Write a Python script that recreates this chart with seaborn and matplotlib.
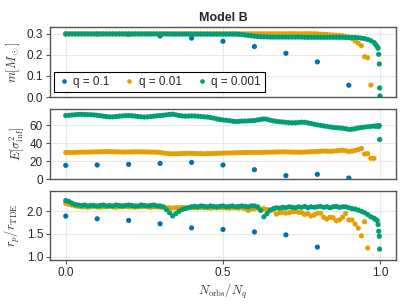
import numpy as np
import pandas as pd
import matplotlib
matplotlib.use("Agg")
import matplotlib.pyplot as plt
import seaborn as sns

nan = np.nan

# q = 0.1 (10 orbits)
x_q1 = [0.0, 0.1, 0.2, 0.3, 0.4, 0.5, 0.6, 0.7, 0.8, 0.9]
m_q1 = [0.300, 0.299, 0.297, 0.290, 0.280, 0.265, 0.240, 0.208, 0.167, 0.056]
E_q1 = [15.2, 15.6, 16.3, 17.4, 18.5, 15.6, 10.4, 3.7, 5.2, 1.1]
rp_q1 = [1.895, 1.836, 1.800, 1.725, 1.635, 1.600, 1.546, 1.480, 1.210, nan]

# q = 0.01 (N_orbs/N_q = i/100)
x_q2 = [i / 100 for i in range(99)]
m_q2 = [0.300, 0.300, 0.300, 0.300, 0.300, 0.300, 0.300, 0.300, 0.300, 0.300,
        0.300, 0.300, 0.300, 0.300, 0.300, 0.300, 0.300, 0.300, 0.300, 0.300,
        0.300, 0.300, 0.300, 0.300, 0.300, 0.300, 0.300, 0.300, 0.300, 0.300,
        0.300, 0.300, 0.300, 0.300, 0.301, 0.301, 0.301, 0.301, 0.301, 0.301,
        0.301, 0.301, 0.301, 0.301, 0.301, 0.301, 0.301, 0.301, 0.301, 0.301,
        0.301, 0.301, 0.301, 0.301, 0.301, 0.301, 0.301, 0.301, 0.301, 0.301,
        0.301, 0.301, 0.301, 0.301, 0.301, 0.301, 0.301, 0.301, 0.301, 0.301,
        0.301, 0.301, 0.301, 0.301, 0.301, 0.301, 0.301, 0.301, 0.301, 0.301,
        0.300, 0.299, 0.298, 0.297, 0.296, 0.295, 0.294, 0.293, 0.291, 0.289,
        0.285, 0.278, 0.267, 0.256, 0.244, 0.192, 0.187, 0.057, nan]
E_q2 = [29.5, 29.6, 29.5, 29.7, 29.8, 29.9, 30.0, 29.9, 30.1, 30.2,
        30.3, 30.4, 30.5, 30.6, 30.5, 30.4, 30.3, 30.2, 30.1, 30.0,
        30.1, 30.2, 30.3, 30.4, 30.3, 30.2, 30.1, 30.0, 29.9, 29.8,
        29.5, 29.0, 28.5, 28.2, 28.0, 28.1, 28.3, 28.5, 28.6, 28.7,
        28.6, 28.5, 28.4, 28.3, 28.2, 28.3, 28.4, 28.5, 28.6, 28.7,
        28.8, 28.9, 29.0, 29.1, 29.2, 29.3, 29.4, 29.5, 29.6, 29.7,
        29.6, 29.5, 29.6, 29.7, 29.8, 29.9, 30.0, 30.1, 30.2, 30.3,
        30.2, 30.1, 30.0, 29.9, 29.8, 29.9, 30.0, 30.2, 30.4, 30.5,
        30.7, 30.9, 31.1, 31.0, 30.8, 31.0, 31.4, 31.8, 32.0, 31.5,
        30.5, 31.0, 31.8, 32.8, 34.0, 27.8, 28.3, 23.0, 23.0]
rp_q2 = [2.18, 2.16, 2.14, 2.12, 2.11, 2.10, 2.10, 2.09, 2.10, 2.11,
         2.10, 2.09, 2.10, 2.10, 2.11, 2.10, 2.09, 2.10, 2.10, 2.11,
         2.10, 2.10, 2.09, 2.10, 2.10, 2.11, 2.10, 2.09, 2.10, 2.10,
         2.09, 2.09, 2.08, 2.08, 2.07, 2.08, 2.08, 2.09, 2.08, 2.08,
         2.09, 2.08, 2.08, 2.09, 2.08, 2.08, 2.07, 2.08, 2.08, 2.09,
         2.08, 2.08, 2.07, 2.08, 2.08, 2.07, 2.08, 2.06, 2.02, 2.05,
         2.06, 2.07, 2.05, 2.06, 2.04, 2.02, 2.03, 1.94, 1.97, 1.98,
         1.96, 1.97, 1.99, 2.00, 1.98, 1.97, 1.93, 1.95, 1.90, 1.92,
         1.96, 1.96, 1.87, 1.83, 1.87, 1.86, 1.79, 1.81, 1.87, 1.955,
         1.81, 1.81, 1.72, 1.63, 1.46, 1.77, 1.19, nan, nan]

# q = 0.001 (dense run, plus the tail close to N_orbs/N_q = 1)
x_q3 = [i / 100 for i in range(99)] + [0.985, 0.99, 0.993, 0.995, 0.997, 0.998, 0.999]
m_q3 = [0.300, 0.300, 0.300, 0.300, 0.300, 0.300, 0.300, 0.300, 0.300, 0.300,
        0.300, 0.300, 0.300, 0.300, 0.300, 0.300, 0.300, 0.300, 0.300, 0.300,
        0.300, 0.300, 0.300, 0.300, 0.300, 0.300, 0.300, 0.300, 0.300, 0.300,
        0.300, 0.300, 0.300, 0.300, 0.299, 0.299, 0.299, 0.299, 0.299, 0.299,
        0.299, 0.299, 0.299, 0.299, 0.299, 0.299, 0.299, 0.299, 0.299, 0.299,
        0.299, 0.299, 0.299, 0.299, 0.299, 0.298, 0.297, 0.295, 0.293, 0.291,
        0.289, 0.288, 0.287, 0.286, 0.286, 0.285, 0.285, 0.285, 0.285, 0.285,
        0.285, 0.285, 0.285, 0.285, 0.285, 0.285, 0.284, 0.284, 0.284, 0.284,
        0.284, 0.284, 0.284, 0.284, 0.284, 0.284, 0.284, 0.284, 0.284, 0.283,
        0.283, 0.283, 0.283, 0.282, 0.280, 0.278, 0.274, 0.268, 0.259,
        0.250, 0.240, 0.232, 0.203, 0.157, 0.043, 0.005]
E_q3 = [70.7, 71.0, 71.3, 71.6, 71.9, 72.0, 71.8, 71.7, 71.6, 71.4,
        71.0, 70.5, 70.0, 69.5, 69.2, 69.3, 69.6, 70.0, 70.3, 70.6,
        70.7, 70.5, 70.1, 69.6, 69.3, 69.0, 69.2, 69.6, 70.0, 70.4,
        70.7, 71.0, 71.5, 72.0, 72.2, 71.5, 70.8, 70.3, 70.0, 70.1,
        70.3, 70.2, 70.0, 69.6, 69.3, 69.0, 68.5, 67.8, 67.0, 66.3,
        65.8, 65.5, 65.0, 64.4, 64.0, 64.2, 64.5, 64.6, 64.7, 65.0,
        65.2, 65.8, 66.4, 67.0, 66.5, 65.5, 64.8, 64.2, 63.8, 63.5,
        63.2, 62.8, 62.6, 62.7, 63.0, 63.3, 63.2, 62.5, 61.8, 61.0,
        60.3, 59.8, 59.2, 58.6, 58.0, 57.5, 57.2, 56.9, 56.5, 56.0,
        55.3, 55.5, 56.0, 56.8, 57.4, 57.8, 58.2, 58.6, 59.0,
        58.8, 59.2, 59.0, 58.5, 59.5, 44.0, nan]
rp_q3 = [2.24, 2.22, 2.18, 2.15, 2.14, 2.13, 2.14, 2.12, 2.13, 2.13,
         2.12, 2.13, 2.14, 2.12, 2.13, 2.12, 2.14, 2.13, 2.12, 2.13,
         2.14, 2.13, 2.12, 2.12, 2.14, 2.13, 2.12, 2.13, 2.14, 2.12,
         2.12, 2.10, 2.04, 1.97, 1.90, 1.95, 2.00, 2.04, 2.06, 2.08,
         2.10, 2.11, 2.10, 2.12, 2.11, 2.10, 2.12, 2.11, 2.10, 2.11,
         2.12, 2.10, 2.11, 2.12, 2.10, 2.11, 2.12, 2.11, 2.10, 2.12,
         2.12, 2.10, 2.02, 1.88, 1.95, 2.03, 2.06, 2.08, 2.07, 2.09,
         2.08, 2.10, 2.09, 2.08, 2.10, 2.09, 2.11, 2.08, 2.10, 2.09,
         2.10, 2.11, 2.09, 2.10, 2.08, 2.10, 2.11, 2.09, 2.10, 2.10,
         2.08, 2.06, 2.05, 2.03, 2.00, 1.97, 1.93, 1.88,
         1.85, 1.82, 1.80, 1.71, 1.56, 1.45, 1.165, nan]

labels = ["q = 0.1", "q = 0.01", "q = 0.001"]
colors = ["#0072B2", "#E69F00", "#009E73"]

df = pd.concat([
    pd.DataFrame({"x": x_q1, "m": m_q1, "E": E_q1, "rp": rp_q1, "q": labels[0]}),
    pd.DataFrame({"x": x_q2, "m": m_q2, "E": E_q2, "rp": rp_q2, "q": labels[1]}),
    pd.DataFrame({"x": x_q3[:len(m_q3)], "m": m_q3, "E": E_q3[:len(m_q3)],
                  "rp": rp_q3[:len(m_q3)], "q": labels[2]}),
], ignore_index=True)

sns.set_theme(style="whitegrid")
plt.rcParams["font.family"] = ["Liberation Sans", "DejaVu Sans"]
plt.rcParams["mathtext.fontset"] = "cm"

fig = plt.figure(figsize=(4.07, 3.06), dpi=100)
W, H = 407, 306
boxes = [(27, 97), (109, 179), (191, 260)]
axes = []
for top, bot in boxes:
    axes.append(fig.add_axes([50 / W, 1 - bot / H, 346 / W, (bot - top) / H]))

cols = ["m", "E", "rp"]
ylabels = [r"$m[M_\odot]$", r"$E[\sigma^2_\mathrm{inf}]$", r"$r_p/r_\mathrm{TDE}$"]
ylims = [(0, 0.333), (0, 78), (0.925, 2.45)]
yticks = [[0.0, 0.1, 0.2, 0.3], [0, 20, 40, 60], [1.0, 1.5, 2.0]]
yfmt = ["{:.1f}", "{:d}", "{:.1f}"]

for i, ax in enumerate(axes):
    sns.scatterplot(data=df, x="x", y=cols[i], hue="q", palette=colors,
                    hue_order=labels, s=14, linewidth=0, ax=ax, legend=(i == 0))
    ax.set_xlim(-0.05, 1.05)
    ax.set_ylim(*ylims[i])
    ax.set_yticks(yticks[i])
    ax.set_yticklabels([yfmt[i].format(v) for v in yticks[i]])
    ax.set_xticks([0.0, 0.5, 1.0])
    ax.set_ylabel(ylabels[i], fontsize=9, color="#333333", labelpad=3)
    ax.set_xlabel("")
    ax.grid(True, color="#e8e8e8", linewidth=0.8)
    for sp in ax.spines.values():
        sp.set_color("#555555")
        sp.set_linewidth(1.0)
    ax.tick_params(axis="y", which="both", left=True, length=3, width=0.8,
                   color="#555555", labelsize=8.5, pad=2)
    if i < 2:
        ax.tick_params(axis="x", bottom=False, labelbottom=False)
    else:
        ax.tick_params(axis="x", bottom=True, length=3, width=0.8,
                       color="#555555", labelsize=8.5, pad=2)
        ax.set_xticklabels(["0.0", "0.5", "1.0"])

axes[2].set_xlabel(r"$N_\mathrm{orbs}/N_q$", fontsize=9, color="#333333", labelpad=2)
axes[0].set_title("Model B", fontsize=9, fontweight="bold", pad=4)

leg = axes[0].legend(loc="lower left", bbox_to_anchor=(0.0, 0.02), ncol=3,
                     frameon=True, fancybox=False, fontsize=8.5, markerscale=0.9,
                     handletextpad=0.3, columnspacing=1.2, borderpad=0.35,
                     borderaxespad=0.3, handlelength=1.0)
leg.get_frame().set_edgecolor("black")
leg.get_frame().set_linewidth(0.8)
leg.get_frame().set_alpha(1)

fig.savefig("out.png", dpi=100)
